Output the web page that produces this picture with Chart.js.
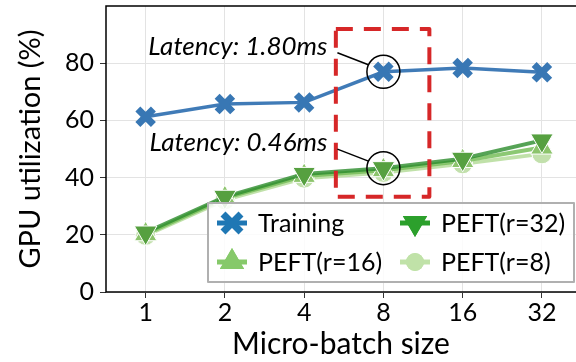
<!DOCTYPE html>
<html>
<head>
<meta charset="utf-8">
<script src="https://cdn.jsdelivr.net/npm/chart.js@4"></script>
<style>
  html, body { margin: 0; padding: 0; background: #fff; }
  #wrap { width: 576px; height: 362px; }
</style>
</head>
<body>
<div id="wrap"><canvas id="chart" width="576" height="362"></canvas></div>
<script>
// micro-batch sizes on the x axis
const batchSizes = ['1', '2', '4', '8', '16', '32'];
const yTicks = [0, 20, 40, 60, 80];

// GPU utilization (%)
const training = [61.3, 65.7, 66.3, 77.0, 78.3, 76.8];
const peft32 = [20.8, 33.3, 41.3, 43.3, 46.6, 53.0];
const peft16 = [20.2, 32.8, 40.6, 42.6, 45.8, 50.5];
const peft8 = [19.8, 32.2, 39.8, 41.8, 44.8, 48.3];

const latencyLabels = ['Latency: 1.80ms', 'Latency: 0.46ms'];

const FONT = 'Lato, "Open Sans", sans-serif';

function toPoints(arr) {
  return arr.map((v, i) => ({ x: i, y: v }));
}

// legend drawn inside the plot like the original figure
const legendItems = [
  { label: 'Training', color: '#1f77b4', style: 'crossRot', rot: 0 },
  { label: 'PEFT(r=32)', color: '#2ca02c', style: 'triangle', rot: 180 },
  { label: 'PEFT(r=16)', color: '#86c96a', style: 'triangle', rot: 0 },
  { label: 'PEFT(r=8)', color: '#c0e2a8', style: 'circle', rot: 0 }
];

const overlay = {
  id: 'overlay',
  afterDraw(chart) {
    const ctx = chart.ctx;
    const xs = chart.scales.x, ys = chart.scales.y;
    const area = chart.chartArea;
    ctx.save();

    // spines
    ctx.strokeStyle = '#000';
    ctx.lineWidth = 1.5;
    ctx.beginPath();
    ctx.moveTo(576, area.top);
    ctx.lineTo(area.left, area.top);
    ctx.lineTo(area.left, area.bottom);
    ctx.lineTo(576, area.bottom);
    ctx.stroke();

    // dashed highlight box around batch size 8
    ctx.strokeStyle = '#d62728';
    ctx.lineWidth = 4;
    ctx.lineJoin = 'round';
    ctx.setLineDash([17, 11]);
    const bx0 = xs.getPixelForValue(2.4), bx1 = xs.getPixelForValue(3.58);
    const by0 = ys.getPixelForValue(92), by1 = ys.getPixelForValue(33.3);
    ctx.strokeRect(bx0, by0, bx1 - bx0, by1 - by0);
    ctx.setLineDash([]);

    // circles + callouts
    const targets = [[3, training[3]], [3, peft32[3]]];
    ctx.font = 'italic 26px ' + FONT;
    ctx.textAlign = 'right';
    ctx.textBaseline = 'alphabetic';
    targets.forEach((t, k) => {
      const cx = xs.getPixelForValue(t[0]);
      const cy = ys.getPixelForValue(t[1]);
      ctx.strokeStyle = '#000';
      ctx.lineWidth = 1.5;
      ctx.beginPath();
      ctx.arc(cx, cy, 16.5, 0, Math.PI * 2);
      ctx.stroke();
      const tx = cx - 46, ty = cy - 19;
      ctx.beginPath();
      ctx.moveTo(tx, ty);
      ctx.lineTo(cx - 15, cy - 7);
      ctx.stroke();
      ctx.fillStyle = '#000';
      ctx.fillText(latencyLabels[k], tx - 10, ty + 2);
    });

    // legend box
    const lx = 208, ly = 203, lw = 366, lh = 79;
    ctx.fillStyle = 'rgba(255,255,255,0.85)';
    ctx.fillRect(lx, ly, lw, lh);
    ctx.strokeStyle = '#b0b0b0';
    ctx.lineWidth = 2;
    ctx.strokeRect(lx, ly, lw, lh);
    ctx.font = '25px ' + FONT;
    ctx.textAlign = 'left';
    ctx.textBaseline = 'middle';
    legendItems.forEach((it, i) => {
      const col = i % 2, row = Math.floor(i / 2);
      const mx = col === 0 ? 232 : 415;
      const my = row === 0 ? 223 : 262;
      ctx.strokeStyle = it.color;
      ctx.lineWidth = 5;
      ctx.beginPath();
      ctx.moveTo(mx - 15, my);
      ctx.lineTo(mx + 15, my);
      ctx.stroke();
      if (it.style === 'crossRot') {
        ctx.lineWidth = 7;
        ctx.strokeStyle = it.color;
        ctx.beginPath();
        ctx.moveTo(mx - 9, my - 9); ctx.lineTo(mx + 9, my + 9);
        ctx.moveTo(mx + 9, my - 9); ctx.lineTo(mx - 9, my + 9);
        ctx.stroke();
      } else {
        ctx.fillStyle = it.color;
        Chart.helpers.drawPoint(ctx, { pointStyle: it.style, radius: it.style === 'circle' ? 9 : 14, rotation: it.rot, borderWidth: 0 }, mx, my);
        ctx.fill();
      }
      ctx.fillStyle = '#000';
      ctx.fillText(it.label, mx + 26, my + 1);
    });
    ctx.restore();
  }
};

const common = {
  fill: false,
  tension: 0,
  pointBorderColor: '#fff',
  pointBorderWidth: 1
};

new Chart(document.getElementById('chart'), {
  type: 'line',
  data: {
    datasets: [
      {
        ...common,
        label: 'Training',
        data: toPoints(training),
        borderColor: 'rgba(31,100,170,0.85)',
        borderWidth: 3.5,
        backgroundColor: '#3877b4',
        pointStyle: 'crossRot',
        pointRadius: 11,
        pointBorderColor: '#3877b4',
        pointBorderWidth: 7,
        order: 0
      },
      {
        ...common,
        label: 'PEFT(r=32)',
        data: toPoints(peft32),
        borderColor: 'rgba(44,140,44,0.8)',
        borderWidth: 4,
        backgroundColor: '#56a040',
        pointStyle: 'triangle',
        pointRotation: 180,
        pointRadius: 13,
        order: 1
      },
      {
        ...common,
        label: 'PEFT(r=16)',
        data: toPoints(peft16),
        borderColor: 'rgba(120,190,90,0.85)',
        borderWidth: 4,
        backgroundColor: '#8cc46c',
        pointStyle: 'triangle',
        pointRadius: 13,
        order: 2
      },
      {
        ...common,
        label: 'PEFT(r=8)',
        data: toPoints(peft8),
        borderColor: 'rgba(185,222,160,0.9)',
        borderWidth: 4,
        backgroundColor: '#c2e0ac',
        pointStyle: 'circle',
        pointRadius: 10,
        order: 3
      }
    ]
  },
  options: {
    responsive: false,
    animation: false,
    layout: { autoPadding: false, padding: { top: 6, right: 0, left: 0, bottom: 0 } },
    plugins: {
      legend: { display: false },
      tooltip: { enabled: false }
    },
    scales: {
      x: {
        type: 'linear',
        min: -0.5,
        max: 5.43,
        afterBuildTicks(scale) {
          scale.ticks = batchSizes.map((s, i) => ({ value: i }));
        },
        afterFit(scale) {
          scale.height = 70;
          scale.paddingLeft = 0;
          scale.paddingRight = 0;
        },
        grid: { color: '#e3e3e3', lineWidth: 1, tickLength: 6, tickColor: '#333', drawOnChartArea: true },
        border: { display: false },
        ticks: {
          color: '#000',
          font: { family: FONT, size: 25 },
          padding: 0,
          maxRotation: 0,
          autoSkip: false,
          callback: (v) => batchSizes[v]
        },
        title: {
          display: true,
          text: 'Micro-batch size',
          color: '#000',
          font: { family: FONT, size: 30 },
          padding: { top: 0, bottom: 0 }
        }
      },
      y: {
        min: 0,
        max: 100,
        afterBuildTicks(scale) {
          scale.ticks = yTicks.map(v => ({ value: v }));
        },
        afterFit(scale) {
          scale.width = 106;
          scale.paddingTop = 0;
          scale.paddingBottom = 0;
        },
        grid: { color: '#e3e3e3', lineWidth: 1, tickLength: 6, tickColor: '#333' },
        border: { display: false },
        ticks: {
          color: '#000',
          font: { family: FONT, size: 25 },
          padding: 6
        },
        title: {
          display: true,
          text: 'GPU utilization (%)',
          color: '#000',
          font: { family: FONT, size: 29 },
          padding: { top: 13, bottom: 0 }
        }
      }
    }
  },
  plugins: [overlay]
});
</script>
</body>
</html>
